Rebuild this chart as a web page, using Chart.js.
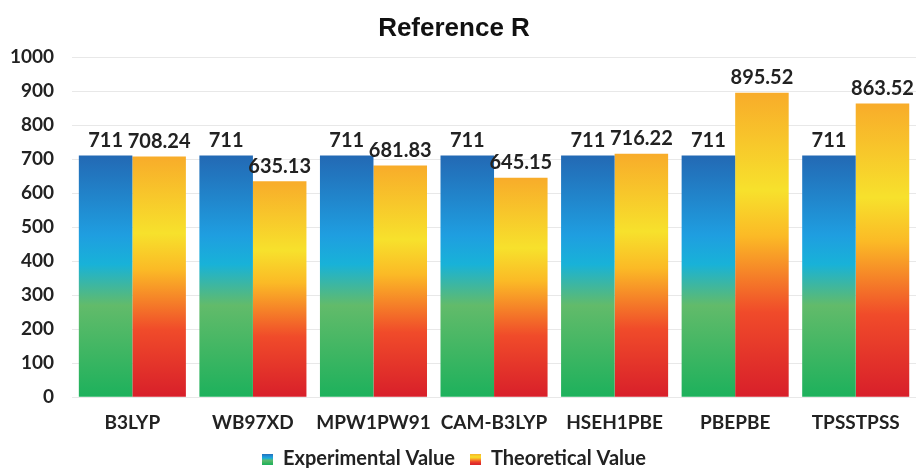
<!DOCTYPE html>
<html>
<head>
<meta charset="utf-8">
<script src="https://cdn.jsdelivr.net/npm/chart.js@4.4.0/dist/chart.umd.min.js"></script>
<style>
  html, body { margin: 0; padding: 0; background: #fff; }
  #wrap { width: 916px; height: 468px; }
</style>
</head>
<body>
<div id="wrap"><canvas id="grafico"></canvas></div>
<script>
// dados
const metodos = ['B3LYP', 'WB97XD', 'MPW1PW91', 'CAM-B3LYP', 'HSEH1PBE', 'PBEPBE', 'TPSSTPSS'];
const experimental = [711, 711, 711, 711, 711, 711, 711];
const teorico = [708.24, 635.13, 681.83, 645.15, 716.22, 895.52, 863.52];
const rotulos = ['711', '708.24', '711', '635.13', '711', '681.83', '711', '645.15', '711', '716.22', '711', '895.52', '711', '863.52'];

const paradasAzul = [[0, '#2369b4'], [0.33, '#1f9ee0'], [0.45, '#18b2d8'], [0.62, '#62bb6a'], [1, '#1db15c']];
const paradasLaranja = [[0, '#f8ac2a'], [0.32, '#f7e12c'], [0.47, '#fbba26'], [0.72, '#f04b2a'], [1, '#d81f2a']];

function gradiente(ctx, topo, base, paradas) {
    const g = ctx.createLinearGradient(0, topo, 0, base);
    paradas.forEach(p => g.addColorStop(p[0], p[1]));
    return g;
}

function corBarra(paradas, reserva) {
    return function(context) {
        const chart = context.chart;
        if (!chart.chartArea || context.raw === undefined) return reserva;
        const y = chart.scales.y;
        return gradiente(chart.ctx, y.getPixelForValue(context.raw), y.getPixelForValue(0), paradas);
    };
}

function iconeLegenda(paradas) {
    const c = document.createElement('canvas');
    c.width = 11; c.height = 11;
    const cx = c.getContext('2d');
    cx.fillStyle = gradiente(cx, 0, 11, paradas);
    cx.fillRect(0, 0, 11, 11);
    return c;
}

// plugin simples para os valores em cima das barras
const valoresPlugin = {
    id: 'valores',
    afterDatasetsDraw(chart) {
        const ctx = chart.ctx;
        ctx.save();
        ctx.font = 'bold 20px Lato, sans-serif';
        ctx.fillStyle = '#222';
        ctx.textAlign = 'center';
        ctx.textBaseline = 'bottom';
        chart.data.datasets.forEach((ds, di) => {
            chart.getDatasetMeta(di).data.forEach((bar, i) => {
                ctx.fillText(rotulos[i * 2 + di], bar.x, bar.y - 5);
            });
        });
        ctx.restore();
    }
};

const config = {
    type: 'bar',
    data: {
        labels: metodos,
        datasets: [
            {
                label: 'Experimental Value',
                data: experimental,
                backgroundColor: corBarra(paradasAzul, '#1f9ee0'),
                pointStyle: iconeLegenda(paradasAzul),
                barPercentage: 1,
                categoryPercentage: 0.888
            },
            {
                label: 'Theoretical Value',
                data: teorico,
                backgroundColor: corBarra(paradasLaranja, '#fbba26'),
                pointStyle: iconeLegenda(paradasLaranja),
                barPercentage: 1,
                categoryPercentage: 0.888
            }
        ]
    },
    options: {
        responsive: true,
        maintainAspectRatio: false,
        animation: false,
        layout: { padding: { left: -8, right: 0, top: 0, bottom: -11 } },
        plugins: {
            title: {
                display: true,
                text: 'Reference R',
                color: '#111',
                font: { family: 'Liberation Sans, Arial, sans-serif', size: 26, weight: 'bold' },
                padding: { top: 13, bottom: 13 }
            },
            legend: {
                position: 'bottom',
                labels: {
                    usePointStyle: true,
                    color: '#222',
                    font: { family: 'Lato, sans-serif', size: 20, weight: 'bold' },
                    padding: 15,
                    boxWidth: 11,
                    boxHeight: 11
                }
            },
            tooltip: { enabled: false }
        },
        scales: {
            x: {
                grid: { display: false, tickLength: 14 },
                border: { display: false },
                ticks: {
                    color: '#222',
                    font: { family: 'Lato, sans-serif', size: 19, weight: 'bold' },
                    padding: 0,
                    maxRotation: 0,
                    minRotation: 0,
                    autoSkip: false
                }
            },
            y: {
                min: 0,
                max: 1000,
                ticks: {
                    stepSize: 100,
                    color: '#222',
                    font: { family: 'Lato, sans-serif', size: 19, weight: 'bold' },
                    padding: 18,
                    callback: v => String(v)
                },
                grid: { color: '#e8e8e8', drawTicks: false },
                border: { display: false }
            }
        }
    },
    plugins: [valoresPlugin]
};

new Chart(document.getElementById('grafico'), config);
</script>
</body>
</html>
